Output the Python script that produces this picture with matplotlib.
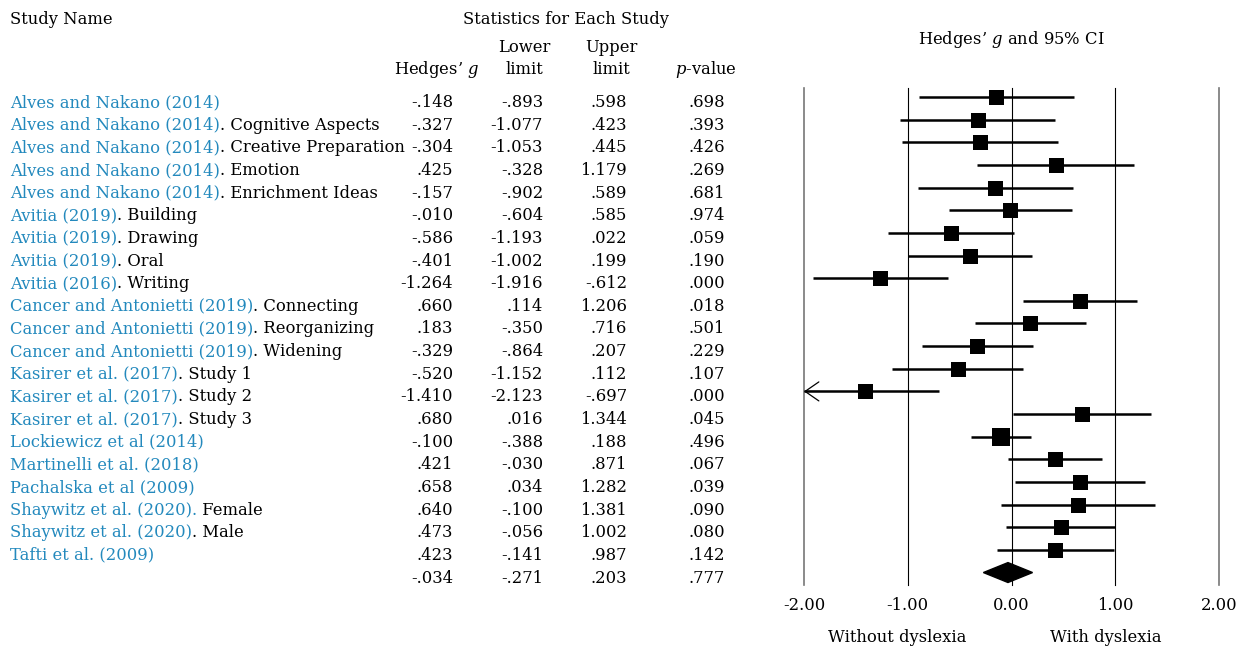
import matplotlib
matplotlib.use("Agg")
import matplotlib.pyplot as plt
import matplotlib.transforms as mtransforms

# ---------------- data ----------------
study_blue = [
    "Alves and Nakano (2014)", "Alves and Nakano (2014)", "Alves and Nakano (2014)",
    "Alves and Nakano (2014)", "Alves and Nakano (2014)", "Avitia (2019)",
    "Avitia (2019)", "Avitia (2019)", "Avitia (2016)",
    "Cancer and Antonietti (2019)", "Cancer and Antonietti (2019)",
    "Cancer and Antonietti (2019)", "Kasirer et al. (2017)", "Kasirer et al. (2017)",
    "Kasirer et al. (2017)", "Lockiewicz et al (2014)", "Martinelli et al. (2018)",
    "Pachalska et al (2009)", "Shaywitz et al. (2020).", "Shaywitz et al. (2020)",
    "Tafti et al. (2009)",
]
study_black = [
    "", ". Cognitive Aspects", ". Creative Preparation", ". Emotion",
    ". Enrichment Ideas", ". Building", ". Drawing", ". Oral", ". Writing",
    ". Connecting", ". Reorganizing", ". Widening", ". Study 1", ". Study 2",
    ". Study 3", "", "", "", " Female", ". Male", "",
]
hedges_g = [-0.148, -0.327, -0.304, 0.425, -0.157, -0.010, -0.586, -0.401, -1.264,
            0.660, 0.183, -0.329, -0.520, -1.410, 0.680, -0.100, 0.421, 0.658,
            0.640, 0.473, 0.423]
lower = [-0.893, -1.077, -1.053, -0.328, -0.902, -0.604, -1.193, -1.002, -1.916,
         0.114, -0.350, -0.864, -1.152, -2.123, 0.016, -0.388, -0.030, 0.034,
         -0.100, -0.056, -0.141]
upper = [0.598, 0.423, 0.445, 1.179, 0.589, 0.585, 0.022, 0.199, -0.612,
         1.206, 0.716, 0.207, 0.112, -0.697, 1.344, 0.188, 0.871, 1.282,
         1.381, 1.002, 0.987]
p_value = [0.698, 0.393, 0.426, 0.269, 0.681, 0.974, 0.059, 0.190, 0.000,
           0.018, 0.501, 0.229, 0.107, 0.000, 0.045, 0.496, 0.067, 0.039,
           0.090, 0.080, 0.142]
weights = [1.0] * 15 + [1.17] + [1.0] * 5
summary_g, summary_lower, summary_upper, summary_p = -0.034, -0.271, 0.203, 0.777
xticks = [-2, -1, 0, 1, 2]
xtick_labels = ["-2.00", "-1.00", "0.00", "1.00", "2.00"]

# ---------------- style ----------------
plt.rcParams['font.family'] = ['DejaVu Serif']
plt.rcParams['mathtext.fontset'] = 'custom'
plt.rcParams['mathtext.rm'] = 'DejaVu Serif'
plt.rcParams['mathtext.it'] = 'DejaVu Serif:italic'
FS = 11.8
BLUE = '#2389bd'

W, H = 1237, 648
fig = plt.figure(figsize=(W / 100, H / 100), dpi=100)
ax = fig.add_axes([804 / W, 1 - 585 / H, 415 / W, 497 / H])

n = len(hedges_g)
rows = list(range(n))
sum_row = n
ax.set_xlim(-2, 2)
ax.set_ylim(21.55, -0.40)
for s in ax.spines.values():
    s.set_visible(False)
ax.set_yticks([])
ax.set_xticks(xticks)
ax.set_xticklabels(xtick_labels, fontsize=FS)
ax.tick_params(axis='x', length=0, pad=9)

for t in xticks:
    edge = abs(t) == 2
    ax.axvline(t, color='#777777' if edge else 'black', lw=1.2 if edge else 0.8,
               clip_on=False, zorder=1)

xmin = -2
for i in rows:
    lo = max(lower[i], xmin)
    ax.hlines(i, lo, upper[i], color='black', lw=1.8, zorder=2)
    if lower[i] < xmin:
        ax.annotate('', xy=(xmin, i), xytext=(xmin + 0.15, i),
                    arrowprops=dict(arrowstyle='->,head_length=0.55,head_width=0.38',
                                    lw=0.9, color='black', shrinkA=0, shrinkB=0,
                                    mutation_scale=18), zorder=3)
    ax.plot(hedges_g[i], i, marker='s', color='black', ms=10.8 * weights[i],
            mew=0, zorder=4)

h = 0.44
ax.fill([summary_lower, summary_g, summary_upper, summary_g],
        [sum_row, sum_row - h, sum_row, sum_row + h], color='black', zorder=4)

# ---------------- table text ----------------
trans = mtransforms.blended_transform_factory(fig.transFigure, ax.transData)
base_off = 0.44


def fx(px):
    return px / W


def fy(py):
    return 1 - py / H


fig.canvas.draw()
renderer = fig.canvas.get_renderer()
for i in rows:
    y = i + base_off
    tb = fig.text(fx(10), y, study_blue[i], color=BLUE, fontsize=FS,
                  transform=trans, va='baseline', ha='left')
    if study_black[i]:
        wpx = tb.get_window_extent(renderer).width
        fig.text(fx(10 + wpx), y, study_black[i], color='black', fontsize=FS,
                 transform=trans, va='baseline', ha='left')

cols_x = [453, 543, 627, 725]


def fmt(v):
    s = f"{v:.3f}"
    if s.startswith("0."):
        s = s[1:]
    elif s.startswith("-0."):
        s = "-" + s[2:]
    return s


for i in rows + [sum_row]:
    y = i + base_off
    if i < n:
        vals = [hedges_g[i], lower[i], upper[i], p_value[i]]
    else:
        vals = [summary_g, summary_lower, summary_upper, summary_p]
    for cx, v in zip(cols_x, vals):
        fig.text(fx(cx), y, fmt(v), fontsize=FS, transform=trans,
                 va='baseline', ha='right', color='black')

# headers
fig.text(fx(10), fy(20), "Study Name", fontsize=FS, va='center', ha='left')
fig.text(fx(566), fy(20), "Statistics for Each Study", fontsize=FS, va='center', ha='center')
fig.text(fx(1011), fy(40), "Hedges\u2019 $g$ and 95% CI", fontsize=FS, va='center', ha='center')
fig.text(fx(437), fy(69), "Hedges\u2019 $g$", fontsize=FS, va='center', ha='center')
fig.text(fx(524), fy(48), "Lower", fontsize=FS, va='center', ha='center')
fig.text(fx(524), fy(69), "limit", fontsize=FS, va='center', ha='center')
fig.text(fx(611), fy(48), "Upper", fontsize=FS, va='center', ha='center')
fig.text(fx(611), fy(69), "limit", fontsize=FS, va='center', ha='center')
fig.text(fx(706), fy(69), "$p$-value", fontsize=FS, va='center', ha='center')

fig.text(fx(897), fy(638), "Without dyslexia", fontsize=FS, va='center', ha='center')
fig.text(fx(1106), fy(638), "With dyslexia", fontsize=FS, va='center', ha='center')

fig.savefig("out.png", dpi=100)
